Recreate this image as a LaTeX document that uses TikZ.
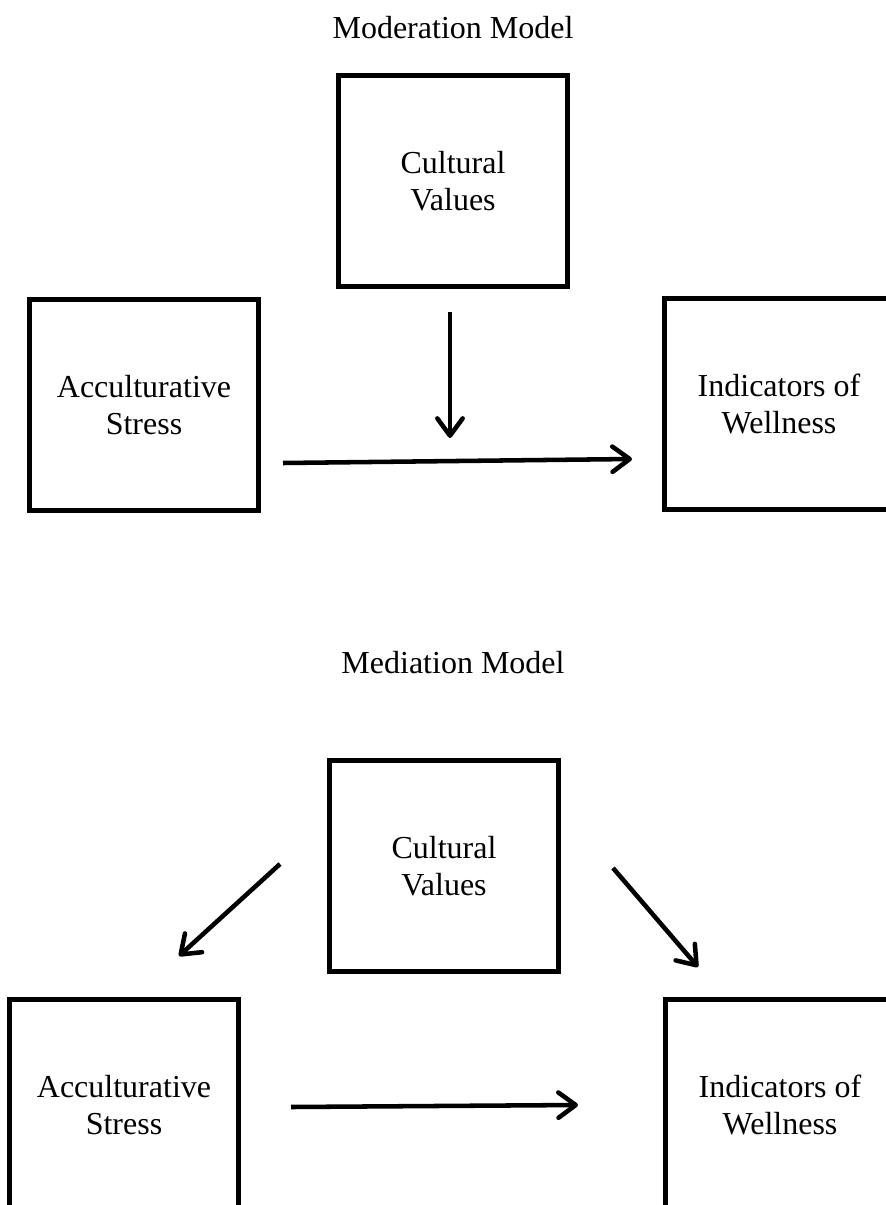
\documentclass[tikz,border=0pt]{standalone}
\usepackage{fontspec}
\setmainfont{Liberation Serif}
\usetikzlibrary{arrows.meta,positioning}

\tikzset{
  var/.style={draw,line width=3.4pt,minimum width=172pt,minimum height=158pt,
    inner sep=0pt,align=center,font=\fontsize{24}{28}\selectfont},
  ttl/.style={font=\fontsize{24}{28}\selectfont}
}

\begin{document}
\begin{tikzpicture}[x=0.75pt,y=-0.75pt,->,>={Straight Barb[length=13pt,width=19pt,round]},
        line width=3.4pt]
    \useasboundingbox (0,0) rectangle (885,1205);

    % moderation
    \node[ttl] (ttl1) at (453,28) {Moderation Model};
    \node[var] (cv1) at (453,181) {Cultural\\Values};
    \node[var] (as1) at (144,405) {Acculturative\\Stress};
    \node[var] (iw1) at (779,404) {Indicators of\\Wellness};

    \coordinate (as1 out) at (283,463);
    \coordinate (iw1 in) at (632,459);
    \coordinate (cv1 out) at (450,312);
    \coordinate (mod in) at (450,438);

    \path (as1 out) edge (iw1 in)
        (cv1 out) edge (mod in);

    % mediation
    \node[ttl] (ttl2) at (453,663) {Mediation Model};
    \node[var] (cv2) at (444,866) {Cultural\\Values};
    \node[var] (as2) at (124,1105) {Acculturative\\Stress};
    \node[var] (iw2) at (780,1105) {Indicators of\\Wellness};

    \coordinate (cv2 left) at (280,864);
    \coordinate (as2 in) at (179,956);
    \coordinate (cv2 right) at (613,868);
    \coordinate (iw2 top) at (698,967);
    \coordinate (as2 out) at (291,1107);
    \coordinate (iw2 in) at (578,1105);

    \path (cv2 left) edge (as2 in)
        (cv2 right) edge (iw2 top)
        (as2 out) edge (iw2 in);

\end{tikzpicture}
\end{document}
